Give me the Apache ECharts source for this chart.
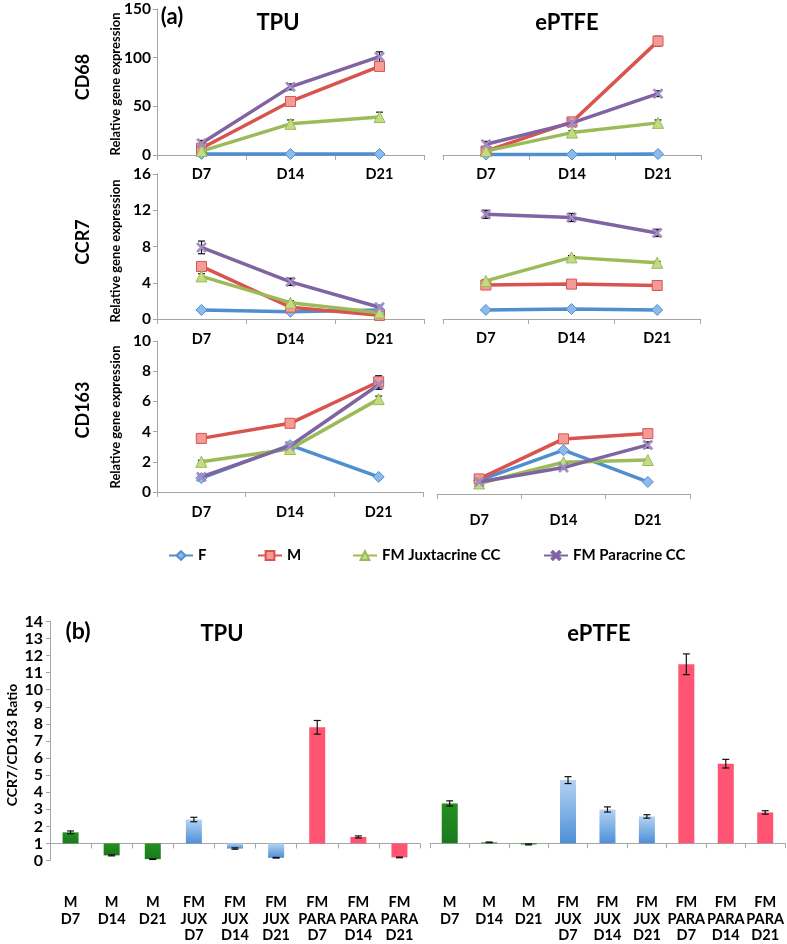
<!DOCTYPE html>
<html>
<head>
<meta charset="utf-8">
<script src="https://cdn.jsdelivr.net/npm/echarts@6/dist/echarts.min.js"></script>
<style>
html,body{margin:0;padding:0;background:#fff;}
#chart{width:787px;height:944px;}
</style>
</head>
<body>
<div id="chart"></div>
<script>
// ---------- DATA ----------
const days = ['D7', 'D14', 'D21'];
const seriesNames = ['F', 'M', 'FM Juxtacrine CC', 'FM Paracrine CC'];

// CD68
const cd68TpuF = [1, 1, 1];
const cd68TpuM = [7, 55, 91];
const cd68TpuJux = [4, 32, 39];
const cd68TpuPara = [12, 70, 101];
const cd68TpuErrM = [2, 3, 4];
const cd68TpuErrJux = [1, 4, 5];
const cd68TpuErrPara = [3, 3, 5];
const cd68EptfeF = [0.5, 0.5, 1];
const cd68EptfeM = [4, 34, 117];
const cd68EptfeJux = [4, 23, 33];
const cd68EptfePara = [11, 33, 63];
const cd68EptfeErrM = [1, 3, 5];
const cd68EptfeErrJux = [1, 2, 3];
const cd68EptfeErrPara = [3, 2, 3];

// CCR7
const ccr7TpuF = [1.0, 0.8, 1.0];
const ccr7TpuM = [5.8, 1.3, 0.4];
const ccr7TpuJux = [4.7, 1.8, 0.7];
const ccr7TpuPara = [7.9, 4.1, 1.3];
const ccr7TpuErrM = [0.3, 0.2, 0.1];
const ccr7TpuErrJux = [0.3, 0.2, 0.1];
const ccr7TpuErrPara = [0.7, 0.4, 0.2];
const ccr7EptfeF = [1.0, 1.1, 1.0];
const ccr7EptfeM = [3.75, 3.85, 3.7];
const ccr7EptfeJux = [4.2, 6.8, 6.2];
const ccr7EptfePara = [11.55, 11.2, 9.5];
const ccr7EptfeErrM = [0.15, 0.25, 0.15];
const ccr7EptfeErrJux = [0.15, 0.2, 0.15];
const ccr7EptfeErrPara = [0.45, 0.45, 0.4];

// CD163
const cd163TpuF = [0.92, 3.1, 1.0];
const cd163TpuM = [3.55, 4.55, 7.3];
const cd163TpuJux = [2.0, 2.85, 6.15];
const cd163TpuPara = [1.0, 3.05, 7.1];
const cd163TpuErrM = [0.1, 0.2, 0.4];
const cd163TpuErrJux = [0.1, 0.1, 0.2];
const cd163TpuErrPara = [0.1, 0.1, 0.3];
const cd163EptfeF = [0.9, 2.9, 0.8];
const cd163EptfeM = [1.0, 3.65, 4.0];
const cd163EptfeJux = [0.7, 2.1, 2.25];
const cd163EptfePara = [0.8, 1.75, 3.25];
const cd163EptfeErrPara = [0.05, 0.1, 0.2];

// y axis ticks
const cd68Ticks = [0, 50, 100, 150];
const ccr7Ticks = [0, 4, 8, 12, 16];
const cd163Ticks = [0, 2, 4, 6, 8, 10];

// (b) CCR7/CD163 ratio
const barCats = ['M\nD7', 'M\nD14', 'M\nD21', 'FM\nJUX\nD7', 'FM\nJUX\nD14', 'FM\nJUX\nD21', 'FM\nPARA\nD7', 'FM\nPARA\nD14', 'FM\nPARA\nD21'];
const ratioTpu = [1.65, 0.30, 0.08, 2.40, 0.70, 0.16, 7.8, 1.38, 0.18];
const ratioTpuErr = [0.08, 0.03, 0.02, 0.13, 0.04, 0.02, 0.4, 0.06, 0.02];
const ratioEptfe = [3.3, 1.05, 0.93, 4.65, 2.95, 2.55, 11.35, 5.6, 2.78];
const ratioEptfeErr = [0.15, 0.02, 0.03, 0.2, 0.15, 0.1, 0.6, 0.25, 0.1];
const ratioTicks = [0, 14];
const ratioBase = 1;

// ---------- CHART ----------
const FONT = 'Lato';
const AXIS_GRAY = '#a6a6a6';
const lineColors = ['#4f8fd0', '#d9534f', '#9bbb59', '#8064a2'];
const markerFill = ['#8dbbe9', '#f39b97', '#c3dc84', '#a690c9'];
const xPath = 'path://M0,1.5L1.5,0L5,3.5L8.5,0L10,1.5L6.5,5L10,8.5L8.5,10L5,6.5L1.5,10L0,8.5L3.5,5Z';
const symbols = ['diamond', 'rect', 'triangle', xPath];
const symbolSizes = [11, 10, 11, 10];

const panels = [
  {vals: [cd68TpuF, cd68TpuM, cd68TpuJux, cd68TpuPara], errs: [null, cd68TpuErrM, cd68TpuErrJux, cd68TpuErrPara], ticks: cd68Ticks,
   grid: {left: 157, top: 9, width: 267, height: 146}, showY: true, labelMargin: 12},
  {vals: [cd68EptfeF, cd68EptfeM, cd68EptfeJux, cd68EptfePara], errs: [null, cd68EptfeErrM, cd68EptfeErrJux, cd68EptfeErrPara], ticks: cd68Ticks,
   grid: {left: 443, top: 9, width: 258, height: 146}, showY: false, labelMargin: 12},
  {vals: [ccr7TpuF, ccr7TpuM, ccr7TpuJux, ccr7TpuPara], errs: [null, ccr7TpuErrM, ccr7TpuErrJux, ccr7TpuErrPara], ticks: ccr7Ticks,
   grid: {left: 157, top: 174, width: 267, height: 145}, showY: true, labelMargin: 13},
  {vals: [ccr7EptfeF, ccr7EptfeM, ccr7EptfeJux, ccr7EptfePara], errs: [null, ccr7EptfeErrM, ccr7EptfeErrJux, ccr7EptfeErrPara], ticks: ccr7Ticks,
   grid: {left: 443, top: 174, width: 257, height: 145}, showY: false, labelMargin: 12},
  {vals: [cd163TpuF, cd163TpuM, cd163TpuJux, cd163TpuPara], errs: [null, cd163TpuErrM, cd163TpuErrJux, cd163TpuErrPara], ticks: cd163Ticks,
   grid: {left: 157, top: 341, width: 266, height: 151}, showY: true, labelMargin: 13},
  {vals: [cd163EptfeF, cd163EptfeM, cd163EptfeJux, cd163EptfePara], errs: [null, null, null, cd163EptfeErrPara], ticks: cd163Ticks,
   grid: {left: 437, top: 343, width: 253, height: 151}, showY: false, labelMargin: 19}
];

function errRender(params, api) {
  const x = api.value(0), lo = api.value(1), hi = api.value(2);
  const p1 = api.coord([x, hi]), p2 = api.coord([x, lo]);
  const w = 3.5;
  const st = {stroke: '#111', lineWidth: 1.2};
  return {type: 'group', children: [
    {type: 'line', shape: {x1: p1[0], y1: p1[1], x2: p2[0], y2: p2[1]}, style: st},
    {type: 'line', shape: {x1: p1[0] - w, y1: p1[1], x2: p1[0] + w, y2: p1[1]}, style: st},
    {type: 'line', shape: {x1: p2[0] - w, y1: p2[1], x2: p2[0] + w, y2: p2[1]}, style: st}
  ]};
}

const grids = [], xAxes = [], yAxes = [], series = [];

panels.forEach((p, k) => {
  grids.push(Object.assign({containLabel: false}, p.grid));
  xAxes.push({
    type: 'category', gridIndex: k, data: days, boundaryGap: true,
    axisLine: {lineStyle: {color: AXIS_GRAY, width: 1}},
    axisTick: {show: true, length: 5, lineStyle: {color: AXIS_GRAY}},
    axisLabel: {color: '#000', fontFamily: FONT, fontWeight: 'bold', fontSize: 14.5, margin: p.labelMargin},
    splitLine: {show: false}
  });
  const tmax = p.ticks[p.ticks.length - 1];
  yAxes.push({
    type: 'value', gridIndex: k, min: 0, max: tmax, interval: p.ticks[1] - p.ticks[0],
    show: p.showY,
    axisLine: {show: true, lineStyle: {color: AXIS_GRAY}},
    axisTick: {show: true, length: 4, lineStyle: {color: AXIS_GRAY}},
    axisLabel: {color: '#000', fontFamily: FONT, fontWeight: 'bold', fontSize: 15.5, margin: 6},
    splitLine: {show: false}
  });
  p.vals.forEach((vals, j) => {
    series.push({
      type: 'line', name: seriesNames[j], xAxisIndex: k, yAxisIndex: k,
      data: vals, symbol: symbols[j], symbolSize: symbolSizes[j],
      showSymbol: true, animation: false,
      lineStyle: {color: lineColors[j], width: 3.5},
      itemStyle: {color: markerFill[j], borderColor: lineColors[j], borderWidth: j === 3 ? 0.5 : 1},
      z: 3 + j
    });
  });
  const errData = [];
  p.errs.forEach((e, j) => {
    if (!e) return;
    e.forEach((ev, i) => {
      if (ev > 0) errData.push([i, p.vals[j][i] - ev, p.vals[j][i] + ev]);
    });
  });
  series.push({
    type: 'custom', xAxisIndex: k, yAxisIndex: k, renderItem: errRender,
    data: errData, encode: {x: 0, y: [1, 2]}, z: 1, animation: false, silent: true
  });
});

// ----- bar charts (b) -----
const unitPx = 19.12;
const barGrids = [
  {left: 50, top: 870 - 13 * unitPx, width: 370, height: 14 * unitPx},
  {left: 430, top: 867 - 13 * unitPx, width: 356, height: 14 * unitPx}
];
const barSets = [[ratioTpu, ratioTpuErr], [ratioEptfe, ratioEptfeErr]];

function barColor(i) {
  if (i < 3) return new echarts.graphic.LinearGradient(0, 0, 0, 1, [{offset: 0, color: '#239023'}, {offset: 1, color: '#1a7a1a'}]);
  if (i < 6) return new echarts.graphic.LinearGradient(0, 0, 0, 1, [{offset: 0, color: '#b4d3f3'}, {offset: 1, color: '#4d8fd6'}]);
  return '#ff5472';
}

barGrids.forEach((g, b) => {
  const k = panels.length + b;
  grids.push(g);
  xAxes.push({
    type: 'category', gridIndex: k, data: barCats,
    axisLine: {onZero: true, lineStyle: {color: AXIS_GRAY, width: 1}},
    axisTick: {show: true, length: 5, lineStyle: {color: AXIS_GRAY}},
    axisLabel: {color: '#000', fontFamily: FONT, fontWeight: 'bold', fontSize: 14.5, lineHeight: 16.5, margin: 34, interval: 0},
    splitLine: {show: false}
  });
  yAxes.push({
    type: 'value', gridIndex: k, min: ratioTicks[0] - ratioBase, max: ratioTicks[1] - ratioBase, interval: 1,
    show: b === 0,
    axisLine: {show: true, onZero: false, lineStyle: {color: AXIS_GRAY}},
    axisTick: {show: true, length: 4, lineStyle: {color: AXIS_GRAY}},
    axisLabel: {color: '#000', fontFamily: FONT, fontWeight: 'bold', fontSize: 16, margin: 7,
      formatter: v => String(Math.round(v + ratioBase))},
    splitLine: {show: false}
  });
  const [vals, errs] = barSets[b];
  series.push({
    type: 'bar', xAxisIndex: k, yAxisIndex: k, barWidth: 16, animation: false,
    data: vals.map((v, i) => ({value: v - ratioBase, itemStyle: {color: barColor(i)}}))
  });
  series.push({
    type: 'custom', xAxisIndex: k, yAxisIndex: k, renderItem: errRender, animation: false, silent: true,
    data: vals.map((v, i) => [i, v - errs[i] - ratioBase, v + errs[i] - ratioBase]),
    encode: {x: 0, y: [1, 2]}, z: 10
  });
});

function txt(x, y, text, size, rot, align) {
  return {type: 'text', x: x, y: y, rotation: rot || 0,
    style: {text: text, fill: '#000', font: 'bold ' + size + 'px ' + FONT,
      textAlign: align || 'center', textVerticalAlign: 'middle'}};
}

const graphics = [
  txt(172, 17, '(a)', 22),
  txt(278, 23, 'TPU', 22),
  txt(567, 23, 'ePTFE', 22),
  txt(83, 77, 'CD68', 18, Math.PI / 2),
  txt(116, 84, 'Relative gene expression', 13, Math.PI / 2),
  txt(83, 242, 'CCR7', 18, Math.PI / 2),
  txt(116, 251, 'Relative gene expression', 13, Math.PI / 2),
  txt(83, 410, 'CD163', 18, Math.PI / 2),
  txt(116, 417, 'Relative gene expression', 13, Math.PI / 2),
  txt(78, 632, '(b)', 23),
  txt(222, 634, 'TPU', 22),
  txt(599, 634, 'ePTFE', 22),
  txt(12, 745, 'CCR7/CD163 Ratio', 14, Math.PI / 2)
];

const legendLefts = [163, 252, 347, 538];
const legends = seriesNames.map((n, j) => ({
  data: [n], left: legendLefts[j], top: 543, itemWidth: 24, itemHeight: 11,
  textStyle: {fontFamily: FONT, fontWeight: 'bold', fontSize: 15, color: '#000'},
  selectedMode: false
}));

const chart = echarts.init(document.getElementById('chart'), null, {renderer: 'canvas'});
chart.setOption({
  animation: false,
  backgroundColor: '#fff',
  grid: grids, xAxis: xAxes, yAxis: yAxes, series: series,
  legend: legends,
  graphic: graphics
});
</script>
</body>
</html>
